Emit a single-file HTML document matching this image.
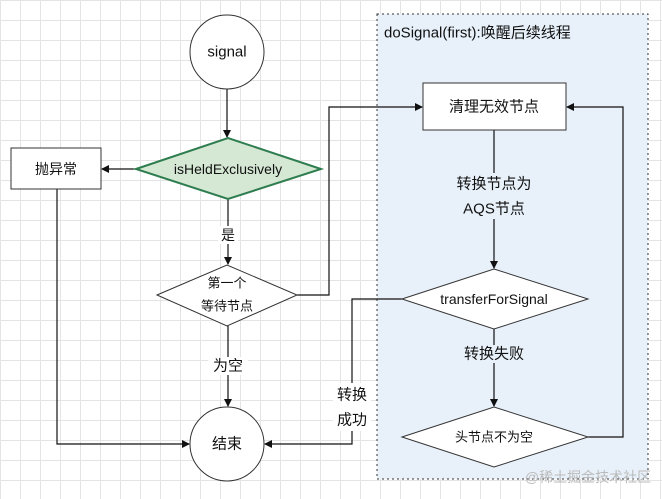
<!DOCTYPE html>
<html><head><meta charset="utf-8"><style>
body{margin:0;width:662px;height:499px;overflow:hidden;background:#fff;
background-image:linear-gradient(#e4e4e4 1px,transparent 1px),linear-gradient(90deg,#e4e4e4 1px,transparent 1px);background-size:20px 20px;}
svg{position:absolute;left:0;top:0}
text{font-family:"Liberation Sans","Noto Sans CJK SC",sans-serif;font-size:14px;fill:#111;text-anchor:middle;dominant-baseline:central}
</style></head><body>
<svg width="662" height="499" viewBox="0 0 662 499">
<defs><marker id="a" markerWidth="8" markerHeight="8" refX="7" refY="4" orient="auto" markerUnits="userSpaceOnUse"><path d="M0,0 L8,4 L0,8 Z" fill="#111"/></marker></defs>
<rect x="377" y="14" width="271" height="465" fill="#e8f1fa" stroke="#333" stroke-dasharray="2,3"/>
<text x="384" y="33" style="text-anchor:start;font-size:15px">doSignal(first):唤醒后续线程</text>
<g stroke="#111" fill="none" stroke-width="1.2">
<path d="M227,89 V137" marker-end="url(#a)"/>
<path d="M136,169 H102" marker-end="url(#a)"/>
<path d="M228,199 V264" marker-end="url(#a)"/>
<path d="M297,295 H329 V107 H422" marker-end="url(#a)"/>
<path d="M228,326 V406" marker-end="url(#a)"/>
<path d="M57,189 V444 H189" marker-end="url(#a)"/>
<path d="M494,130 V268" marker-end="url(#a)"/>
<path d="M402,299 H352 V444 H265" marker-end="url(#a)"/>
<path d="M494,329 V406" marker-end="url(#a)"/>
<path d="M588,437 H623 V107 H567" marker-end="url(#a)"/>
</g>
<ellipse cx="227" cy="52" rx="37" ry="37" fill="#fff" stroke="#333"/>
<text x="227" y="52" style="font-size:15px">signal</text>
<polygon points="136,169 228,138 321,169 228,199" fill="#d5e8d4" stroke="#2e7d4f" stroke-width="2"/>
<text x="228" y="169">isHeldExclusively</text>
<rect x="11" y="148" width="90" height="41" fill="#fff" stroke="#333"/>
<text x="56" y="169">抛异常</text>
<rect x="423" y="83" width="143" height="47" fill="#fff" stroke="#333"/>
<text x="494" y="107" style="font-size:15px">清理无效节点</text>
<rect x="450" y="173" width="86" height="46" fill="#e8f1fa"/>
<text x="494" y="184" style="font-size:15px">转换节点为</text>
<text x="494" y="209" style="font-size:15px">AQS节点</text>
<rect x="218" y="226" width="20" height="18" fill="#fff"/>
<text x="228" y="235">是</text>
<polygon points="157,295 227,265 297,295 227,326" fill="#fff" stroke="#333"/>
<text x="227" y="283" style="font-size:13px">第一个</text>
<text x="227" y="306" style="font-size:13px">等待节点</text>
<rect x="208" y="357" width="40" height="18" fill="#fff"/>
<text x="228" y="366" style="font-size:15px">为空</text>
<ellipse cx="227" cy="444" rx="37" ry="37" fill="#fff" stroke="#333"/>
<text x="227" y="444" style="font-size:15px">结束</text>
<polygon points="402,299 494,269 588,299 494,329" fill="#fff" stroke="#333"/>
<text x="494" y="299">transferForSignal</text>
<rect x="462" y="345" width="64" height="18" fill="#e8f1fa"/>
<text x="494" y="354" style="font-size:15px">转换失败</text>
<rect x="333" y="383" width="38" height="48" fill="#fff"/>
<text x="352" y="395" style="font-size:15px">转换</text>
<text x="352" y="420" style="font-size:15px">成功</text>
<polygon points="402,437 494,407 588,437 494,467" fill="#fff" stroke="#333"/>
<text x="494" y="437" style="font-size:13px">头节点不为空</text>
<text x="588" y="477" style="font-size:14px;fill:#bbb">@稀土掘金技术社区</text>
</svg>
</body></html>
